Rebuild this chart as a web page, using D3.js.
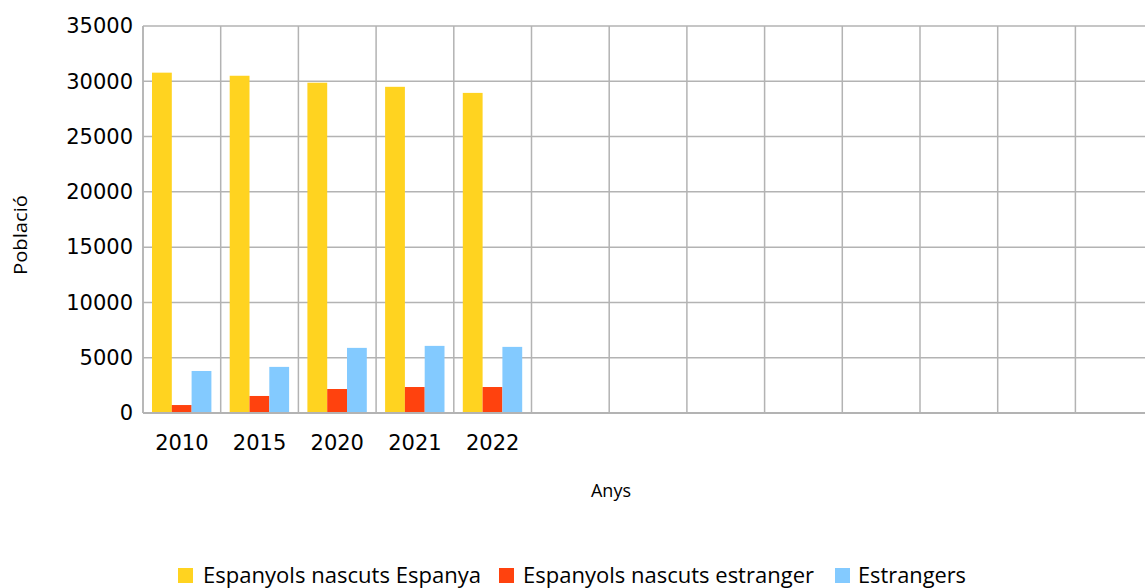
<!DOCTYPE html>
<html>
<head>
<meta charset="utf-8">
<script src="https://cdn.jsdelivr.net/npm/d3@7"></script>
<style>
  html, body { margin: 0; padding: 0; background: #fff; }
  svg { display: block; }
</style>
</head>
<body>
<div id="chart"></div>
<script>
// ---- data ----
const years = ["2010", "2015", "2020", "2021", "2022"];
const seriesNames = ["Espanyols nascuts Espanya", "Espanyols nascuts estranger", "Estrangers"];
const espanyolsEspanya = [30780, 30500, 29870, 29500, 28950];
const espanyolsEstranger = [720, 1540, 2170, 2350, 2350];
const estrangers = [3800, 4170, 5890, 6070, 5980];
const yTicks = [0, 5000, 10000, 15000, 20000, 25000, 30000, 35000];
const seriesColors = ["#ffd320", "#ff420e", "#83caff"];
const slotCount = 13; // category slots on the axis (only 5 hold data)

const seriesValues = [espanyolsEspanya, espanyolsEstranger, estrangers];

(function () {
// ---- layout ----
const W = 1145, H = 588;
const pLeft = 143, pTop = 26, pBottom = 413;
const slotW = 77.7;
const pRight = pLeft + slotCount * slotW;

const svg = d3.select("#chart").append("svg")
  .attr("width", W).attr("height", H)
  .style("font-family", "'DejaVu Sans', sans-serif");

const x0 = d3.scaleBand().domain(d3.range(slotCount)).range([pLeft, pRight]).paddingInner(0).paddingOuter(0);
const x1 = d3.scaleBand().domain(d3.range(seriesNames.length)).range([9, x0.bandwidth() - 9.3]).padding(0);
const y = d3.scaleLinear().domain([0, 35000]).range([pBottom, pTop]);

const grid = "#b3b3b3";

// horizontal grid
svg.append("g").selectAll("line").data(yTicks.filter(t => t > 0)).join("line")
  .attr("x1", pLeft).attr("x2", W)
  .attr("y1", d => y(d)).attr("y2", d => y(d))
  .attr("stroke", grid).attr("stroke-width", 1.5);

// vertical grid
svg.append("g").selectAll("line").data(d3.range(slotCount + 1)).join("line")
  .attr("x1", d => pLeft + d * x0.step()).attr("x2", d => pLeft + d * x0.step())
  .attr("y1", pTop).attr("y2", pBottom)
  .attr("stroke", grid).attr("stroke-width", 1.5);

// bars
const groups = svg.append("g").selectAll("g").data(years).join("g")
  .attr("transform", (d, i) => `translate(${x0(i)},0)`);
groups.selectAll("rect").data((d, i) => seriesValues.map((s, k) => ({ k, v: s[i] }))).join("rect")
  .attr("x", d => x1(d.k))
  .attr("width", x1.bandwidth())
  .attr("y", d => y(d.v))
  .attr("height", d => y(0) - y(d.v))
  .attr("fill", d => seriesColors[d.k]);

// axis lines
svg.append("line").attr("x1", pLeft).attr("x2", W).attr("y1", pBottom).attr("y2", pBottom)
  .attr("stroke", grid).attr("stroke-width", 2);
svg.append("line").attr("x1", pLeft).attr("x2", pLeft).attr("y1", pTop).attr("y2", pBottom)
  .attr("stroke", grid).attr("stroke-width", 1.5);

// y axis labels
const yAxis = d3.axisLeft(y).tickValues(yTicks).tickSize(0).tickPadding(10).tickFormat(d3.format("d"));
const yg = svg.append("g").attr("transform", `translate(${pLeft},0)`).call(yAxis);
yg.select(".domain").remove();
yg.selectAll("text").attr("font-size", 21).attr("font-family", "'DejaVu Sans', sans-serif").attr("fill", "#000");

// x axis labels
const xAxis = d3.axisBottom(x0).tickValues(d3.range(years.length)).tickFormat(i => years[i]).tickSize(0).tickPadding(22);
const xg = svg.append("g").attr("transform", `translate(0,${pBottom})`).call(xAxis);
xg.select(".domain").remove();
xg.selectAll("text").attr("font-size", 21).attr("font-family", "'DejaVu Sans', sans-serif").attr("fill", "#000");

// axis titles
svg.append("text").attr("x", 611).attr("y", 497).attr("text-anchor", "middle")
  .attr("font-family", "'Open Sans', sans-serif").attr("font-size", 19)
  .attr("textLength", 40).attr("lengthAdjust", "spacingAndGlyphs").text("Anys");
svg.append("text").attr("transform", "translate(27,235) rotate(-90)").attr("text-anchor", "middle")
  .attr("font-family", "'Open Sans', sans-serif").attr("font-size", 19)
  .attr("textLength", 80).attr("lengthAdjust", "spacingAndGlyphs").text("Població");

// legend
const legendItems = [
  { sx: 178, tx: 203, tw: 278 },
  { sx: 499, tx: 523, tw: 291 },
  { sx: 835, tx: 858, tw: 108 }
];
const lg = svg.append("g");
seriesNames.forEach((name, k) => {
  const it = legendItems[k];
  lg.append("rect").attr("x", it.sx).attr("y", 568).attr("width", 15).attr("height", 15).attr("fill", seriesColors[k]);
  lg.append("text").attr("x", it.tx).attr("y", 583)
    .attr("font-family", "'Open Sans', sans-serif").attr("font-size", 21)
    .attr("textLength", it.tw).attr("lengthAdjust", "spacingAndGlyphs").text(name);
});
})();
</script>
</body>
</html>
